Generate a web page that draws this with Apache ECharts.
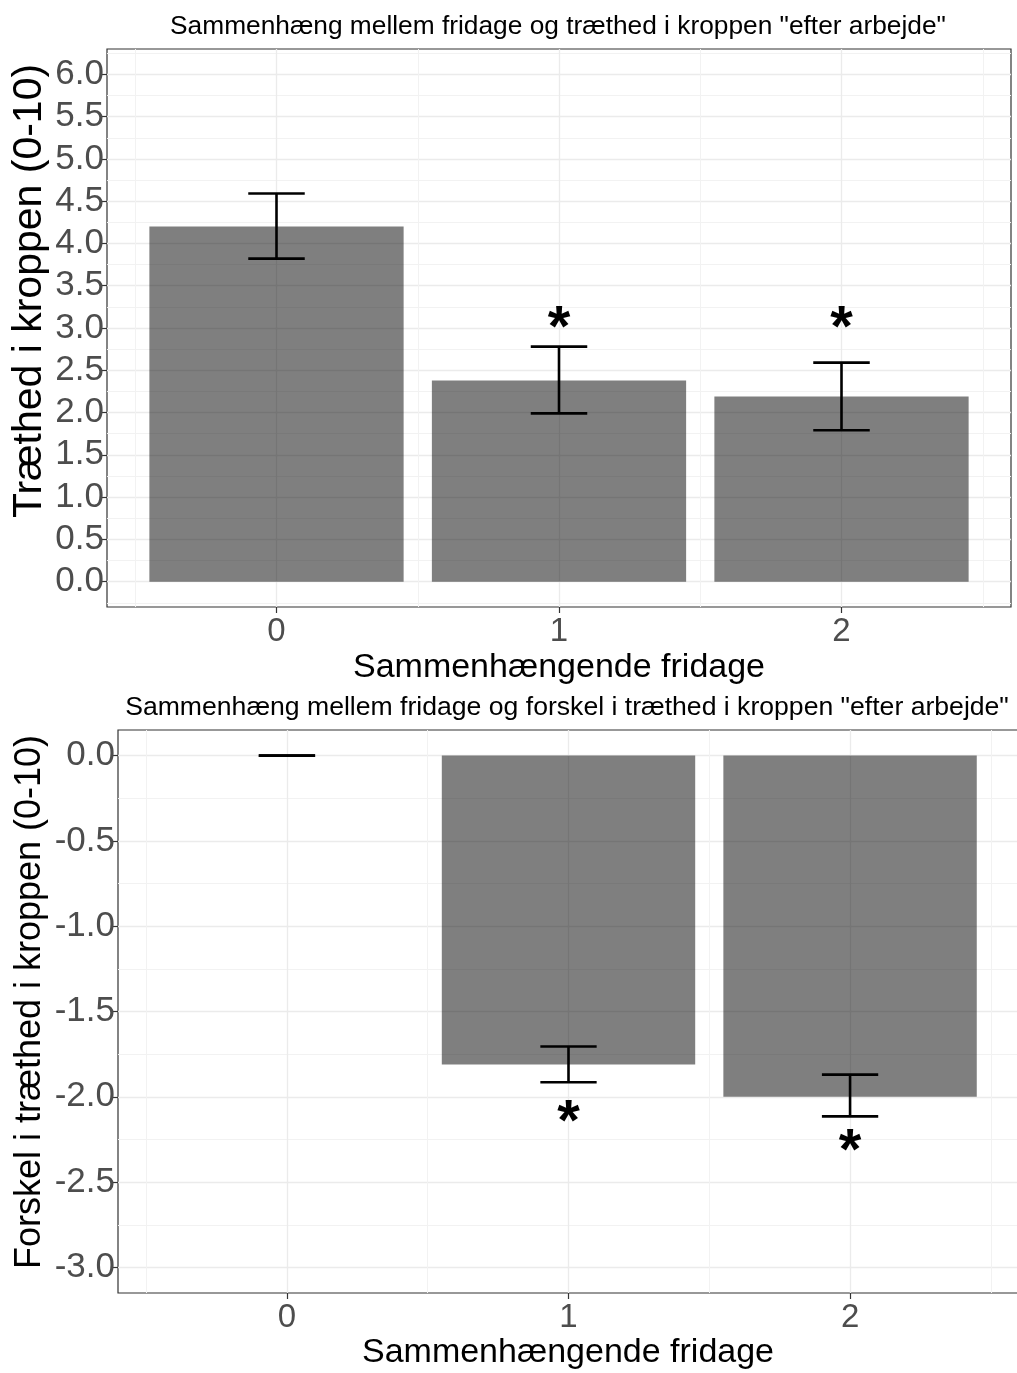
<!DOCTYPE html>
<html>
<head>
<meta charset="utf-8">
<script src="https://cdn.jsdelivr.net/npm/echarts@6/dist/echarts.min.js"></script>
<style>
  html, body { margin: 0; padding: 0; background: #fff; }
  #chart { width: 1017px; height: 1373px; }
</style>
</head>
<body>
<div id="chart"></div>
<script>
// ---------- data ----------
const categories = [0, 1, 2];
const xTickLabels = ['0', '1', '2'];

// top panel: tiredness in the body (0-10)
const tiredMean = [4.20, 2.38, 2.19];
const tiredLow  = [3.82, 1.99, 1.79];
const tiredHigh = [4.59, 2.78, 2.59];
const tiredStar = [null, 3.09, 3.09];

// bottom panel: difference in tiredness (0-10)
const diffMean = [0, -1.81, -2.00];
const diffLow  = [0, -1.915, -2.115];
const diffHigh = [0, -1.705, -1.87];
const diffStar = [null, -2.10, -2.27];

const topYTicks = [0, 0.5, 1, 1.5, 2, 2.5, 3, 3.5, 4, 4.5, 5, 5.5, 6];
const topYTickLabels = ['0.0','0.5','1.0','1.5','2.0','2.5','3.0','3.5','4.0','4.5','5.0','5.5','6.0'];
const botYTicks = [0, -0.5, -1, -1.5, -2, -2.5, -3];
const botYTickLabels = ['0.0','-0.5','-1.0','-1.5','-2.0','-2.5','-3.0'];

const titleTop = 'Sammenhæng mellem fridage og træthed i kroppen "efter arbejde"';
const titleBottom = 'Sammenhæng mellem fridage og forskel i træthed i kroppen "efter arbejde"';
const xTitle = 'Sammenhængende fridage';
const yTitleTop = 'Træthed i kroppen (0-10)';
const yTitleBottom = 'Forskel i træthed i kroppen (0-10)';

// ---------- helpers ----------
const FONT = '"Liberation Sans", Arial, Helvetica, sans-serif';
const minorOf = (ticks, lo, hi) => {
  const s = ticks.slice().sort((a, b) => a - b);
  const step = s[1] - s[0];
  const out = [];
  for (let i = -1; i < s.length; i++) {
    const m = (i < 0 ? s[0] - step : s[i]) + step / 2;
    if (m > lo && m < hi) out.push(m);
  }
  return out;
};
const xMinor = [-0.5, 0.5, 1.5, 2.5];

const barHalf = 0.45, capHalf = 0.1;

function barRender(params, api) {
  const x = api.value(0), v = api.value(1);
  const a = api.coord([x - barHalf, 0]);
  const b = api.coord([x + barHalf, v]);
  return {
    type: 'rect',
    shape: { x: a[0], y: Math.min(a[1], b[1]), width: b[0] - a[0], height: Math.abs(b[1] - a[1]) },
    style: { fill: 'rgba(0,0,0,0.5)' }
  };
}
function errRender(params, api) {
  const x = api.value(0), lo = api.value(1), hi = api.value(2);
  const pl = api.coord([x, lo]), ph = api.coord([x, hi]);
  const l1 = api.coord([x - capHalf, lo]), r1 = api.coord([x + capHalf, lo]);
  const l2 = api.coord([x - capHalf, hi]), r2 = api.coord([x + capHalf, hi]);
  const st = { stroke: '#000', lineWidth: 2.6, fill: null };
  return {
    type: 'group',
    children: [
      { type: 'line', shape: { x1: pl[0], y1: pl[1], x2: ph[0], y2: ph[1] }, style: st },
      { type: 'line', shape: { x1: l1[0], y1: l1[1], x2: r1[0], y2: r1[1] }, style: st },
      { type: 'line', shape: { x1: l2[0], y1: l2[1], x2: r2[0], y2: r2[1] }, style: st }
    ]
  };
}
const STAR_FS = 58;
function starRender(params, api) {
  const p = api.coord([api.value(0), api.value(1)]);
  return {
    type: 'text',
    x: p[0], y: p[1] + 0.17 * STAR_FS,
    style: { text: '*', fontSize: STAR_FS, fontWeight: 'bold', fontFamily: FONT, fill: '#000', align: 'center', verticalAlign: 'middle' }
  };
}

const gridLine = { show: true, lineStyle: { color: '#EBEBEB', width: 1.3 } };
const minorLine = { show: true, lineStyle: { color: '#F2F2F2', width: 1 } };
const tickStyle = { show: true, length: 6, lineStyle: { color: '#333', width: 1.2 } };
const labelStyle = { color: '#4D4D4D', fontFamily: FONT };

function xMajor(gi, fs) {
  return {
    type: 'value', gridIndex: gi, min: -0.6, max: 2.6, position: 'bottom',
    axisLine: { show: false, onZero: false },
    axisTick: Object.assign({ customValues: categories }, tickStyle),
    axisLabel: Object.assign({ customValues: categories, fontSize: fs, margin: 8,
      formatter: v => xTickLabels[categories.indexOf(Math.round(v))] }, labelStyle),
    splitLine: gridLine
  };
}
function xMinorAxis(gi) {
  return {
    type: 'value', gridIndex: gi, min: -0.6, max: 2.6, position: 'bottom',
    axisLine: { show: false, onZero: false },
    axisTick: { show: false, customValues: xMinor },
    axisLabel: { show: false, customValues: xMinor },
    splitLine: minorLine
  };
}
function yMajor(gi, min, max, ticks, labels, fs) {
  return {
    type: 'value', gridIndex: gi, min: min, max: max, position: 'left',
    axisLine: { show: false, onZero: false },
    axisTick: Object.assign({ customValues: ticks }, tickStyle),
    axisLabel: Object.assign({ customValues: ticks, fontSize: fs, margin: 3,
      formatter: v => { const i = ticks.findIndex(t => Math.abs(t - v) < 1e-6); return i >= 0 ? labels[i] : ''; } }, labelStyle),
    splitLine: gridLine
  };
}
function yMinorAxis(gi, min, max, ticks) {
  const m = minorOf(ticks, min, max);
  return {
    type: 'value', gridIndex: gi, min: min, max: max, position: 'left',
    axisLine: { show: false, onZero: false },
    axisTick: { show: false, customValues: m },
    axisLabel: { show: false, customValues: m },
    splitLine: minorLine
  };
}

const chart = echarts.init(document.getElementById('chart'), null, { renderer: 'canvas' });

const option = {
  animation: false,
  backgroundColor: '#fff',
  grid: [
    { left: 107, top: 49, width: 904, height: 558, show: true, borderColor: '#333', borderWidth: 1.2, backgroundColor: 'transparent', containLabel: false, outerBoundsMode: 'none' },
    { left: 118, top: 730, width: 901, height: 563, show: true, borderColor: '#333', borderWidth: 1.2, backgroundColor: 'transparent', containLabel: false, outerBoundsMode: 'none' }
  ],
  xAxis: [ xMinorAxis(0), xMajor(0, 33), xMinorAxis(1), xMajor(1, 33) ],
  yAxis: [
    yMinorAxis(0, -0.3, 6.3, topYTicks),
    yMajor(0, -0.3, 6.3, topYTicks, topYTickLabels, 35),
    yMinorAxis(1, -3.15, 0.15, botYTicks),
    yMajor(1, -3.15, 0.15, botYTicks, botYTickLabels, 35)
  ],
  series: [
    { type: 'custom', xAxisIndex: 1, yAxisIndex: 1, renderItem: barRender,
      data: categories.map((c, i) => [c, tiredMean[i]]), z: 2 },
    { type: 'custom', xAxisIndex: 1, yAxisIndex: 1, renderItem: errRender,
      data: categories.map((c, i) => [c, tiredLow[i], tiredHigh[i]]), z: 3 },
    { type: 'custom', xAxisIndex: 1, yAxisIndex: 1, renderItem: starRender,
      data: categories.map((c, i) => [c, tiredStar[i]]).filter(d => d[1] !== null), z: 4 },
    { type: 'custom', xAxisIndex: 3, yAxisIndex: 3, renderItem: barRender,
      data: categories.map((c, i) => [c, diffMean[i]]), z: 2 },
    { type: 'custom', xAxisIndex: 3, yAxisIndex: 3, renderItem: errRender,
      data: categories.map((c, i) => [c, diffLow[i], diffHigh[i]]), z: 3 },
    { type: 'custom', xAxisIndex: 3, yAxisIndex: 3, renderItem: starRender,
      data: categories.map((c, i) => [c, diffStar[i]]).filter(d => d[1] !== null), z: 4 }
  ],
  graphic: [
    { type: 'text', x: 558, y: 27, style: { text: titleTop, fontSize: 26.3, fontFamily: FONT, fill: '#000', align: 'center', verticalAlign: 'middle' } },
    { type: 'text', x: 567, y: 708, style: { text: titleBottom, fontSize: 26.6, fontFamily: FONT, fill: '#000', align: 'center', verticalAlign: 'middle' } },
    { type: 'text', x: 559, y: 668, style: { text: xTitle, fontSize: 34, fontFamily: FONT, fill: '#000', align: 'center', verticalAlign: 'middle' } },
    { type: 'text', x: 568, y: 1353, style: { text: xTitle, fontSize: 34, fontFamily: FONT, fill: '#000', align: 'center', verticalAlign: 'middle' } },
    { type: 'text', x: 30, y: 291, rotation: Math.PI / 2, style: { text: yTitleTop, fontSize: 41, fontFamily: FONT, fill: '#000', align: 'center', verticalAlign: 'middle' } },
    { type: 'text', x: 30, y: 1002, rotation: Math.PI / 2, style: { text: yTitleBottom, fontSize: 36, fontFamily: FONT, fill: '#000', align: 'center', verticalAlign: 'middle' } }
  ]
};
chart.setOption(option);
</script>
</body>
</html>
